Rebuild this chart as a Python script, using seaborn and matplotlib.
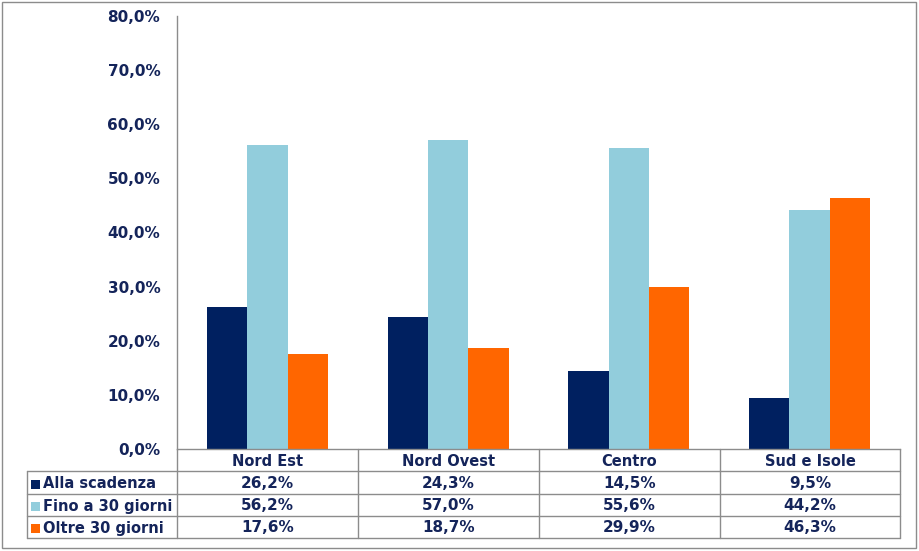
import matplotlib
matplotlib.use("Agg")

import matplotlib.pyplot as plt
import matplotlib.patches as mpatches
from matplotlib.lines import Line2D
import pandas as pd
import seaborn as sns

# ------------------------------------------------------------------------------
# Data
# ------------------------------------------------------------------------------
regions = ["Nord Est", "Nord Ovest", "Centro", "Sud e Isole"]
series = ["Alla scadenza", "Fino a 30 giorni", "Oltre 30 giorni"]
alla_scadenza = [26.2, 24.3, 14.5, 9.5]
fino_30 = [56.2, 57.0, 55.6, 44.2]
oltre_30 = [17.6, 18.7, 29.9, 46.3]
y_ticks = [0, 10, 20, 30, 40, 50, 60, 70, 80]

values = {
    "Alla scadenza": alla_scadenza,
    "Fino a 30 giorni": fino_30,
    "Oltre 30 giorni": oltre_30,
}

colors = {
    "Alla scadenza": "#002060",
    "Fino a 30 giorni": "#92CDDC",
    "Oltre 30 giorni": "#FF6600",
}
TEXT = "#14245A"
GRID = "#8C8C8C"

W, H = 919, 551


def fmt(v):
    return f"{v:.1f}".replace(".", ",") + "%"


def fx(x):
    return x / W


def fy(y):
    return 1 - y / H


df = pd.DataFrame(
    [(r, s, values[s][i]) for s in series for i, r in enumerate(regions)],
    columns=["region", "series", "value"],
)

sns.set_style("white")
plt.rcParams["font.family"] = ["DejaVu Sans"]

fig = plt.figure(figsize=(W / 100, H / 100), dpi=100)
fig.patch.set_facecolor("white")

# plot area in pixel terms
left, right, top, bottom = 177, 900, 16, 449
ax = fig.add_axes([fx(left), fy(bottom), fx(right - left), (bottom - top) / H])

sns.barplot(
    data=df, x="region", y="value", hue="series",
    order=regions, hue_order=series, palette=colors,
    width=0.67, gap=0, saturation=1, legend=False, ax=ax,
    linewidth=0, edgecolor="none",
)

ax.set_ylim(0, 80)
ax.set_xlim(-0.5, len(regions) - 0.5)
ax.set_yticks(y_ticks)
ax.set_yticklabels([fmt(t) for t in y_ticks], fontsize=11, fontweight="bold", color=TEXT)
ax.tick_params(axis="y", length=0, pad=12)
ax.set_xticks([])
ax.set_xlabel("")
ax.set_ylabel("")
for side in ["top", "right"]:
    ax.spines[side].set_visible(False)
for side in ["left", "bottom"]:
    ax.spines[side].set_color(GRID)
    ax.spines[side].set_linewidth(1)

# ------------------------------------------------------------------------------
# Data table below the chart
# ------------------------------------------------------------------------------
col_edges = [177, 358, 539, 720, 900]
row_edges = [449, 471, 494, 516, 538]
tbl_left = 27

def hline(x0, x1, y):
    fig.add_artist(Line2D([fx(x0), fx(x1)], [fy(y), fy(y)], color=GRID, lw=1,
                          transform=fig.transFigure))

def vline(x, y0, y1):
    fig.add_artist(Line2D([fx(x), fx(x)], [fy(y0), fy(y1)], color=GRID, lw=1,
                          transform=fig.transFigure))

for y in row_edges[1:]:
    hline(tbl_left, col_edges[-1], y)
for x in col_edges:
    vline(x, row_edges[0], row_edges[-1])
vline(tbl_left, row_edges[1], row_edges[-1])

# header row
for i, r in enumerate(regions):
    cx = (col_edges[i] + col_edges[i + 1]) / 2
    cy = (row_edges[0] + row_edges[1]) / 2 + 1
    fig.text(fx(cx), fy(cy), r, ha="center", va="center",
             fontsize=10.5, fontweight="bold", color=TEXT)

# data rows
for j, s in enumerate(series):
    cy = (row_edges[j + 1] + row_edges[j + 2]) / 2 + 1
    fig.add_artist(mpatches.Rectangle((fx(31), fy(cy + 5)), fx(9), 9 / H,
                                      facecolor=colors[s], edgecolor="none",
                                      transform=fig.transFigure))
    fig.text(fx(43), fy(cy), s, ha="left", va="center",
             fontsize=10.5, fontweight="bold", color=TEXT)
    for i, v in enumerate(values[s]):
        cx = (col_edges[i] + col_edges[i + 1]) / 2
        fig.text(fx(cx), fy(cy), fmt(v), ha="center", va="center",
                 fontsize=11, fontweight="bold", color=TEXT)

# outer chart border
fig.add_artist(mpatches.Rectangle((fx(2), fy(548)), fx(914), 546 / H,
                                  facecolor="none", edgecolor=GRID, lw=1,
                                  transform=fig.transFigure))

fig.savefig("out.png", dpi=100, facecolor="white")
plt.close(fig)
